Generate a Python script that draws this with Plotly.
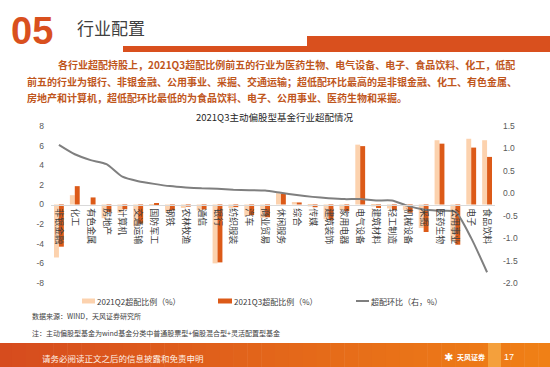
import plotly.graph_objects as go

# ---------------- data ----------------
categories = ["非银金融", "化工", "有色金属", "房地产", "计算机", "交通运输", "国防军工", "钢铁",
              "农林牧渔", "通信", "银行", "纺织服装", "汽车", "商业贸易", "休闲服务", "综合",
              "传媒", "建筑装饰", "家用电器", "电气设备", "建筑材料", "轻工制造", "机械设备",
              "采掘", "医药生物", "公用事业", "电子", "食品饮料"]
q2_over = [-5.4, 0.95, 0.0, -1.4, -0.85, -2.2, -0.1, -0.75, -0.35, -0.62, -6.0, -0.35, -1.15,
           -1.35, 1.15, 0.25, -0.2, -1.5, -0.55, 6.1, -0.2, -0.4, -0.55, -2.4, 6.55, -3.7,
           6.7, 6.55]
q3_over = [-4.3, 1.87, 0.72, -0.78, -0.48, -1.95, 0.1, -0.59, -0.22, -0.51, -5.9, -0.27, -1.08,
           -1.3, 1.1, 0.21, -0.28, -1.6, -0.68, 5.95, -0.36, -0.56, -0.83, -2.8, 6.2, -4.1,
           5.8, 4.85]
qoq_change = [1.08, 0.87, 0.74, 0.65, 0.37, 0.27, 0.21, 0.16, 0.13, 0.11, 0.10, 0.08, 0.07, 0.06,
              0.01, -0.04, -0.08, -0.11, -0.13, -0.13, -0.16, -0.16, -0.28, -0.36, -0.39, -0.41,
              -1.0, -1.76]
left_ticks = [8, 6, 4, 2, 0, -2, -4, -6, -8]
left_tick_text = ["8", "6", "4", "2", "0", "-2", "-4", "-6", "-8"]
right_ticks = [1.5, 1.0, 0.5, 0.0, -0.5, -1.0, -1.5, -2.0]
right_tick_text = ["1.5", "1.0", "0.5", "0.0", "-0.5", "-1.0", "-1.5", "-2.0"]

# ---------------- styling ----------------
W, H = 550, 367
ML, MR, MT, MB = 51, 55, 126, 84
PW, PH = W - ML - MR, H - MT - MB
C_Q2 = "#FCD2AE"
C_Q3 = "#DC5A18"
C_LINE = "#7F7F7F"
C_ORANGE = "#D9501E"
CJK = "Noto Sans CJK SC"


def px(x):
    return (x - ML) / PW


def py(y):
    return (H - MB - y) / PH


fig = go.Figure()
fig.add_trace(go.Bar(x=categories, y=q2_over, name="2021Q2超配比例（%）",
                     marker=dict(color=C_Q2, line=dict(width=0)), showlegend=False))
fig.add_trace(go.Bar(x=categories, y=q3_over, name="2021Q3超配比例（%）",
                     marker=dict(color=C_Q3, line=dict(width=0)), showlegend=False))
fig.add_trace(go.Scatter(x=categories, y=qoq_change, yaxis="y2", mode="lines",
                         name="超配环比（右，%）",
                         line=dict(color=C_LINE, width=2, shape="spline", smoothing=0.6),
                         showlegend=False))

shapes = []
# header rule
shapes.append(dict(type="rect", xref="paper", yref="paper", x0=px(123), x1=px(308),
                   y0=py(52), y1=py(46), fillcolor=C_ORANGE, line=dict(width=0), layer="below"))
shapes.append(dict(type="rect", xref="paper", yref="paper", x0=px(307), x1=px(552),
                   y0=py(52), y1=py(36), fillcolor=C_ORANGE, line=dict(width=0), layer="below"))
# footer gradient band
n = 40
c0 = (214, 76, 30)
c1 = (240, 128, 22)
for i in range(n):
    t = i / (n - 1)
    col = "rgb(%d,%d,%d)" % tuple(round(a + (b - a) * t) for a, b in zip(c0, c1))
    shapes.append(dict(type="rect", xref="paper", yref="paper",
                       x0=px(-2 + i * 554 / n), x1=px(-2 + (i + 1) * 554 / n + 0.5),
                       y0=py(369), y1=py(343), fillcolor=col, line=dict(width=0), layer="below"))
shapes.append(dict(type="rect", xref="paper", yref="paper", x0=px(488), x1=px(501),
                   y0=py(369), y1=py(343), fillcolor="#F4A03C", line=dict(width=0), layer="below"))
# legend swatches
shapes.append(dict(type="rect", xref="paper", yref="paper", x0=px(82), x1=px(95),
                   y0=py(303.5), y1=py(298.5), fillcolor=C_Q2, line=dict(width=0)))
shapes.append(dict(type="rect", xref="paper", yref="paper", x0=px(218), x1=px(232),
                   y0=py(303.5), y1=py(298.5), fillcolor=C_Q3, line=dict(width=0)))
shapes.append(dict(type="line", xref="paper", yref="paper", x0=px(356), x1=px(369),
                   y0=py(301), y1=py(301), line=dict(color=C_LINE, width=2)))

ann = []


def text(x, y, s, size, color, family=CJK, anchor="left", bold=False):
    ann.append(dict(xref="paper", yref="paper", x=px(x), y=py(y), text=("<b>%s</b>" % s) if bold else s,
                    showarrow=False, xanchor=anchor, yanchor="middle",
                    font=dict(size=size, color=color, family=family)))


text(9, 31, "05", 38, C_ORANGE, family="Liberation Sans", bold=True)
text(75, 28, "行业配置", 17, "#404040")
BODY = "#BF561C"
text(56, 64, "各行业超配持股上，2021Q3超配比例前五的行业为医药生物、电气设备、电子、食品饮料、化工，低配",
     10, BODY, bold=True)
text(25, 81, "前五的行业为银行、非银金融、公用事业、采掘、交通运输；超低配环比最高的是非银金融、化工、有色金属、",
     10, BODY, bold=True)
text(25, 97, "房地产和计算机，超低配环比最低的为食品饮料、电子、公用事业、医药生物和采掘。",
     10, BODY, bold=True)
text(274, 117, "2021Q3主动偏股型基金行业超配情况", 9.5, "#262626", anchor="center")
text(95, 301, "2021Q2超配比例（%）", 8, "#404040")
text(232, 301, "2021Q3超配比例（%）", 8, "#404040")
text(369, 301, "超配环比（右，%）", 8, "#404040")
text(30, 316, "数据来源：WIND，天风证券研究所", 7, "#404040")
text(30, 333, "注：主动偏股型基金为wind基金分类中普通股票型+偏股混合型+灵活配置型基金", 7, "#404040")
text(40, 358, "请务必阅读正文之后的信息披露和免责申明", 8.5, "#FFF1E6")
text(442, 357, "✱", 11, "#FFFFFF", family="DejaVu Sans")
text(455, 357, "天风证券", 7, "#FFFFFF", bold=True)
text(502, 357, "17", 9, "#FFFFFF", family="Liberation Sans")

fig.update_layout(
    width=W, height=H,
    margin=dict(l=ML, r=MR, t=MT, b=MB, pad=0),
    paper_bgcolor="white", plot_bgcolor="white",
    barmode="group", bargap=0.38, bargroupgap=0.0,
    font=dict(family=CJK, color="#404040"),
    xaxis=dict(type="category", categoryorder="array", categoryarray=categories,
               anchor="free", position=0.5, side="bottom",
               showline=True, linecolor="#D9D9D9", linewidth=1,
               ticks="", tickangle=90, ticklabelstandoff=1,
               tickfont=dict(size=9, color="#404040", family=CJK),
               showgrid=False, zeroline=False, automargin=False, layer="above traces"),
    yaxis=dict(range=[-8, 8], tickvals=left_ticks, ticktext=left_tick_text,
               showgrid=False, zeroline=False, showline=False, ticks="",
               ticklabelstandoff=6, tickfont=dict(size=8.5, color="#595959", family="Liberation Sans"),
               automargin=False),
    yaxis2=dict(range=[-2, 1.5], overlaying="y", side="right", anchor="x",
                tickvals=right_ticks, ticktext=right_tick_text,
                showgrid=False, zeroline=False, showline=False, ticks="",
                ticklabelstandoff=7, tickfont=dict(size=8.5, color="#595959", family="Liberation Sans"),
                automargin=False),
    shapes=shapes, annotations=ann,
)

fig.write_html("out.html", config={"displayModeBar": False},
               post_script="document.body.style.margin='0';document.body.style.overflow='hidden';")
